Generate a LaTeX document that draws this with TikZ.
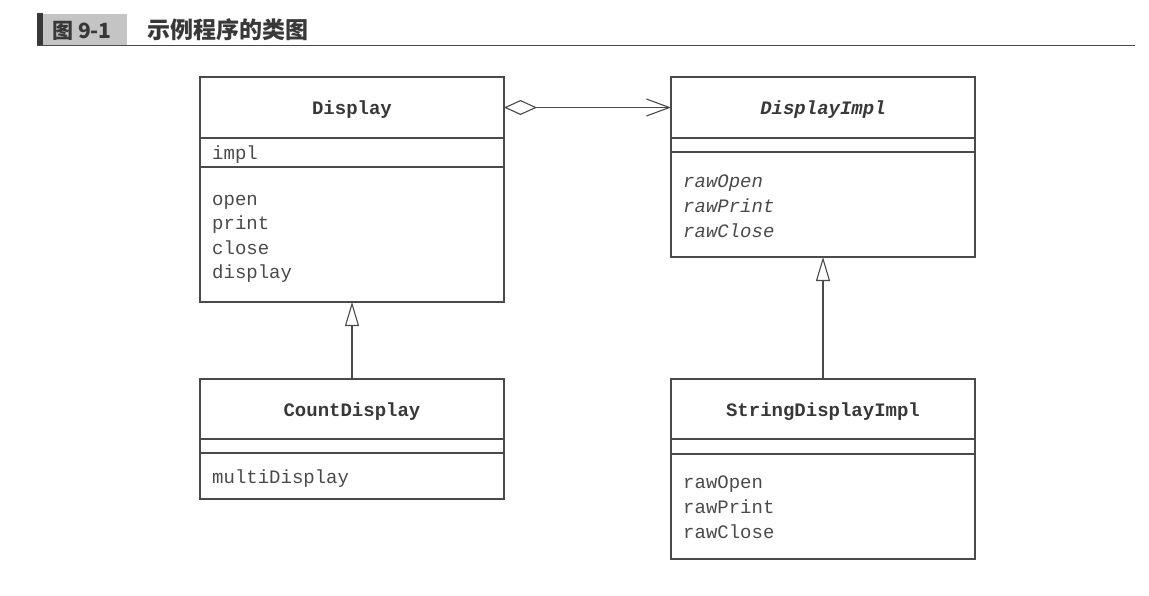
\documentclass[tikz,border=0pt]{standalone}
\usepackage{fontspec}
\setmonofont{Liberation Mono}
\newfontfamily\cjk{Noto Sans CJK SC}
\usetikzlibrary{arrows.meta}
\definecolor{ink}{HTML}{383838}
\definecolor{memink}{HTML}{4A4A4A}
\definecolor{linec}{HTML}{4A4A4A}
\definecolor{tagbg}{HTML}{C4C4C4}
\tikzset{
  comp/.style={draw=linec, line width=1.1pt, rectangle, inner sep=0pt, outer sep=0pt, minimum width=304pt},
  cname/.style={font=\ttfamily\bfseries\fontsize{19}{23}\selectfont, text=ink, inner sep=0pt, anchor=base},
  cnameit/.style={font=\ttfamily\bfseries\itshape\fontsize{19}{23}\selectfont, text=ink, inner sep=0pt, anchor=base},
  member/.style={font=\ttfamily\fontsize{19}{23}\selectfont, text=memink, inner sep=0pt, anchor=base west},
  memberit/.style={font=\ttfamily\itshape\fontsize{19}{23}\selectfont, text=memink, inner sep=0pt, anchor=base west},
  agg/.style={draw=linec, line width=1.1pt, {Diamond[open, length=33pt, width=15pt, line width=1.1pt]}-{Straight Barb[length=23pt, width=17pt, line width=1.1pt]}},
  inh/.style={draw=linec, line width=1.1pt, -{Triangle[open, length=24pt, width=14pt, line width=1.1pt, fill=white]}},
}
\begin{document}
\begin{tikzpicture}[x=1pt, y=-1pt]
\useasboundingbox (0,0) rectangle (1149,595);
% title
\fill[ink] (37,13) rectangle (43,45);
\node[fill=tagbg, minimum width=84pt, minimum height=31pt, inner sep=0pt, outer sep=0pt, anchor=north west] (tag) at (43,14) {};
\node[font=\cjk\bfseries\fontsize{21}{25}\selectfont, text=ink, inner sep=0pt, anchor=base west] (tagtext) at (52,38.5) {图 9-1};
\node[font=\cjk\bfseries\fontsize{23}{27}\selectfont, text=ink, inner sep=0pt, anchor=base west] (title) at (147,38.5) {示例程序的类图};
\draw[linec, line width=1.3pt] (37,45.5) -- (1135,45.5);

% Display
\node[comp, minimum height=61pt, anchor=north] (dname) at (352,77) {};
\node[comp, minimum height=29pt, anchor=north] (dattr) at (dname.south) {};
\node[comp, minimum height=135pt, anchor=north] (dops) at (dattr.south) {};
\node[cname] (dnamet) at (352,114) {Display};
\node[member] (dimpl) at (212,159) {impl};
\node[member] (dopen) at (212,205) {open};
\node[member] (dprint) at (212,229.5) {print};
\node[member] (dclose) at (212,254) {close};
\node[member] (ddisplay) at (212,278.5) {display};

% DisplayImpl
\node[comp, minimum height=61pt, anchor=north] (iname) at (823,77) {};
\node[comp, minimum height=14pt, anchor=north] (iattr) at (iname.south) {};
\node[comp, minimum height=105pt, anchor=north] (iops) at (iattr.south) {};
\node[cnameit] (inamet) at (823,114) {DisplayImpl};
\node[memberit] (iopen) at (683,187) {rawOpen};
\node[memberit] (iprint) at (683,212) {rawPrint};
\node[memberit] (iclose) at (683,237) {rawClose};

% CountDisplay
\node[comp, minimum height=60pt, anchor=north] (cname) at (352,379) {};
\node[comp, minimum height=14pt, anchor=north] (cattr) at (cname.south) {};
\node[comp, minimum height=46pt, anchor=north] (cops) at (cattr.south) {};
\node[cname] (cnamet) at (352,416) {CountDisplay};
\node[member] (cmulti) at (212,483) {multiDisplay};

% StringDisplayImpl
\node[comp, minimum height=60pt, anchor=north] (sname) at (823,379) {};
\node[comp, minimum height=15pt, anchor=north] (sattr) at (sname.south) {};
\node[comp, minimum height=105pt, anchor=north] (sops) at (sattr.south) {};
\node[cname] (snamet) at (823,416) {StringDisplayImpl};
\node[member] (sopen) at (683,488) {rawOpen};
\node[member] (sprint) at (683,513) {rawPrint};
\node[member] (sclose) at (683,538) {rawClose};

% connectors
\draw[agg] (dname.east) -- (iname.west);
\draw[inh] (cname.north) -- (dops.south);
\draw[inh] (sname.north) -- (iops.south);
\end{tikzpicture}
\end{document}
